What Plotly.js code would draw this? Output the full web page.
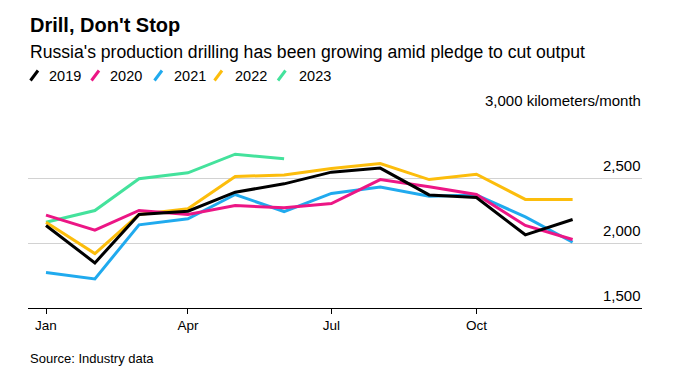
<!DOCTYPE html>
<html>
<head>
<meta charset="utf-8">
<script src="https://cdn.plot.ly/plotly-3.0.1.min.js"></script>
<style>
  html, body { margin: 0; padding: 0; background: #fff; }
  #chart { width: 681px; height: 384px; }
</style>
</head>
<body>
<div id="chart"></div>
<script>
// ---- Data ----
const months = ['2019-01-01','2019-02-01','2019-03-01','2019-04-01','2019-05-01','2019-06-01',
                '2019-07-01','2019-08-01','2019-09-01','2019-10-01','2019-11-01','2019-12-01'];
const seriesNames = ['2019','2020','2021','2022','2023'];
const y2019 = [2135, 1847, 2219, 2245, 2391, 2455, 2545, 2576, 2370, 2350, 2063, 2181];
const y2020 = [2214, 2099, 2250, 2219, 2288, 2271, 2304, 2488, 2432, 2373, 2135, 2027];
const y2021 = [1773, 1724, 2140, 2186, 2373, 2242, 2381, 2430, 2360, 2370, 2201, 2006];
const y2022 = [2160, 1919, 2219, 2263, 2511, 2524, 2573, 2611, 2488, 2529, 2335, 2335];
const y2023 = [2160, 2250, 2494, 2540, 2683, 2648];
const xTickVals = ['2019-01-01','2019-04-01','2019-07-01','2019-10-01'];
const xTickText = ['Jan','Apr','Jul','Oct'];
const yTickVals = [1500, 2000, 2500, 3000];
const yTickText = ['1,500', '2,000', '2,500', '3,000 kilometers/month'];

// ---- Styles ----
const colors = {'2019':'#000000','2020':'#ec1685','2021':'#20aaee','2022':'#fcbd0c','2023':'#44e29c'};
const FONT = 'Liberation Sans, Arial, Helvetica, sans-serif';

// Plot geometry (pixels)
const W = 681, H = 384;
const M = {l: 28, r: 39, t: 113, b: 76};
const PW = W - M.l - M.r, PH = H - M.t - M.b;
const px2x = px => (px - M.l) / PW;
const py2y = py => (H - M.b - py) / PH;

const dataByYear = {'2019': y2019, '2020': y2020, '2021': y2021, '2022': y2022, '2023': y2023};
const drawOrder = ['2023','2022','2021','2020','2019'];
const traces = drawOrder.map(name => ({
  type: 'scatter', mode: 'lines', name: name,
  x: months.slice(0, dataByYear[name].length),
  y: dataByYear[name],
  line: {color: colors[name], width: 3},
  hoverinfo: 'skip'
}));

const annotations = [];
const shapes = [];

// Title / subtitle / source
annotations.push({xref:'paper', yref:'paper', x: px2x(28), y: py2y(24.5), xanchor:'left', yanchor:'middle',
  text:"<b>Drill, Don't Stop</b>", showarrow:false, font:{family:FONT, size:20, color:'#000'}});
annotations.push({xref:'paper', yref:'paper', x: px2x(28), y: py2y(52), xanchor:'left', yanchor:'middle',
  text:"Russia's production drilling has been growing amid pledge to cut output", showarrow:false,
  font:{family:FONT, size:17.6, color:'#000'}});
annotations.push({xref:'paper', yref:'paper', x: px2x(28), y: py2y(358), xanchor:'left', yanchor:'middle',
  text:"Source: Industry data", showarrow:false, font:{family:FONT, size:13, color:'#000'}});

// Legend (slash marks + labels)
const slashX = [30.5, 91.5, 154.5, 214.5, 278];
const labelX = [47, 108, 172, 233, 296.5];
seriesNames.forEach((name, i) => {
  shapes.push({type:'line', xref:'paper', yref:'paper',
    x0: px2x(slashX[i]), y0: py2y(80.5), x1: px2x(slashX[i] + 7.5), y1: py2y(70.5),
    line:{color: colors[name], width: 3}});
  annotations.push({xref:'paper', yref:'paper', x: px2x(labelX[i]), y: py2y(76), xanchor:'left', yanchor:'middle',
    text: name, showarrow:false, font:{family:FONT, size:14.5, color:'#000'}});
});

// Y tick labels (above gridlines, right aligned)
yTickVals.forEach((v, i) => {
  annotations.push({xref:'paper', yref:'y', x: px2x(643), y: v, xanchor:'right', yanchor:'middle',
    yshift: 13, text: yTickText[i], showarrow:false, font:{family:FONT, size:15, color:'#000'}});
});

const layout = {
  width: W, height: H,
  margin: M,
  paper_bgcolor: '#ffffff', plot_bgcolor: '#ffffff',
  showlegend: false,
  xaxis: {
    type: 'date',
    range: ['2018-12-20 14:00', '2020-01-14'],
    tickvals: xTickVals, ticktext: xTickText,
    showgrid: false, zeroline: false,
    showline: true, linecolor: '#000', linewidth: 1,
    ticks: 'outside', ticklen: 5, tickcolor: '#000', tickwidth: 1,
    tickfont: {family: FONT, size: 13.5, color: '#000'},
    fixedrange: true
  },
  yaxis: {
    range: [1500, 3000],
    tickvals: [2000, 2500, 3000],
    showticklabels: false,
    showgrid: true, gridcolor: '#d2d2d2', gridwidth: 1,
    zeroline: false, showline: false, ticks: '',
    fixedrange: true
  },
  annotations: annotations,
  shapes: shapes,
  font: {family: FONT}
};

Plotly.newPlot('chart', traces, layout, {displayModeBar: false, staticPlot: true});
</script>
</body>
</html>
